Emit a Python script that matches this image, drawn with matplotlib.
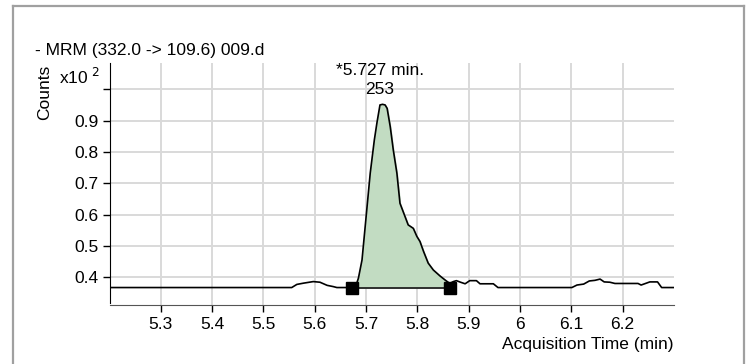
import matplotlib
matplotlib.use('Agg')
from matplotlib import pyplot as plt
from matplotlib.lines import Line2D

plt.rcParams['font.family'] = ['Liberation Sans', 'DejaVu Sans']

# chromatogram trace (x10^2 counts)
time_min = [5.2, 5.555, 5.565, 5.578, 5.597, 5.610, 5.624, 5.636, 5.643, 5.672,
            5.680, 5.685, 5.692, 5.700, 5.708, 5.716, 5.721, 5.727, 5.732, 5.737,
            5.741, 5.747, 5.753, 5.760, 5.766, 5.776, 5.782, 5.792, 5.799, 5.805,
            5.812, 5.821, 5.831, 5.844, 5.854, 5.863, 5.870, 5.876, 5.884, 5.893,
            5.902, 5.915, 5.922, 5.948, 5.957, 6.101, 6.111, 6.124, 6.135, 6.146,
            6.156, 6.164, 6.175, 6.185, 6.230, 6.236, 6.253, 6.268, 6.276, 6.300]
counts = [0.367, 0.367, 0.377, 0.381, 0.386, 0.384, 0.374, 0.370, 0.367, 0.367,
          0.372, 0.397, 0.455, 0.593, 0.732, 0.838, 0.892, 0.950, 0.952, 0.950,
          0.939, 0.881, 0.806, 0.732, 0.636, 0.593, 0.567, 0.556, 0.530, 0.514,
          0.482, 0.445, 0.423, 0.404, 0.391, 0.380, 0.386, 0.389, 0.384, 0.379,
          0.389, 0.389, 0.379, 0.379, 0.367, 0.367, 0.375, 0.378, 0.388, 0.390,
          0.394, 0.385, 0.384, 0.380, 0.380, 0.375, 0.385, 0.385, 0.367, 0.367]

# integration window
peak_start = 5.672
peak_end = 5.863
baseline = 0.367

x_ticks = [5.3, 5.4, 5.5, 5.6, 5.7, 5.8, 5.9, 6.0, 6.1, 6.2]
x_labels = ['5.3', '5.4', '5.5', '5.6', '5.7', '5.8', '5.9', '6', '6.1', '6.2']
y_ticks = [0.4, 0.5, 0.6, 0.7, 0.8, 0.9, 1.0]
y_labels = ['0.4', '0.5', '0.6', '0.7', '0.8', '0.9', '']

fig = plt.figure(figsize=(7.48, 3.64), dpi=100)
ax = fig.add_axes([0.1465, 0.161, 0.7545, 0.666])

ax.plot(time_min, counts, color='black', lw=1.2, zorder=3)

# shaded peak area between trace and baseline
in_peak = [(t, c) for t, c in zip(time_min, counts) if peak_start <= t <= peak_end]
pt = [p[0] for p in in_peak]
pc = [p[1] for p in in_peak]
ax.fill_between(pt, pc, baseline, color='#c2dcc2', zorder=2)
ax.plot([peak_start, peak_end], [baseline, baseline], color='#222222', lw=1.3, zorder=3)
ax.plot([peak_start, peak_end], [baseline, baseline], 's', color='black',
        markersize=9, zorder=4)

ax.set_xlim(5.2, 6.3)
ax.set_ylim(0.31, 1.084)
ax.set_xticks(x_ticks)
ax.set_xticklabels(x_labels)
ax.set_yticks(y_ticks)
ax.set_yticklabels(y_labels)
ax.tick_params(labelsize=12.5, length=5, width=1, colors='black', pad=3)

ax.grid(True, color='#d9d9d9', lw=1.4, zorder=0)
ax.set_axisbelow(True)
ax.spines['top'].set_visible(False)
ax.spines['right'].set_visible(False)
ax.spines['left'].set_bounds(0.318, 1.084)
ax.spines['bottom'].set_color('#555555')

ax.text(5.727, 1.059, '*5.727 min.', ha='center', va='center', fontsize=12.5, clip_on=False)
ax.text(5.727, 0.998, '253', ha='center', va='center', fontsize=12.5)

fig.text(35 / 748, 1 - 50.5 / 364, '- MRM (332.0 -> 109.6) 009.d', ha='left', va='center', fontsize=12.5)
fig.text(59 / 748, 1 - 77 / 364, r'x10$^{\ 2}$', ha='left', va='center', fontsize=12.5)
fig.text(44.5 / 748, 1 - 92 / 364, 'Counts', rotation=90, ha='center', va='center', fontsize=12.5)
fig.text(673 / 748, 1 - 345 / 364, 'Acquisition Time (min)', ha='right', va='center', fontsize=12.5)

# outer frame (open at the bottom)
frame_kw = dict(color='#a0a0a0', lw=1.6, transform=fig.transFigure)
fig.add_artist(Line2D([13 / 748, 13 / 748], [0, 1 - 6 / 364], **frame_kw))
fig.add_artist(Line2D([13 / 748, 744 / 748], [1 - 6 / 364, 1 - 6 / 364], **frame_kw))
fig.add_artist(Line2D([744 / 748, 744 / 748], [0, 1 - 6 / 364], **frame_kw))

fig.savefig('out.png', dpi=100)
